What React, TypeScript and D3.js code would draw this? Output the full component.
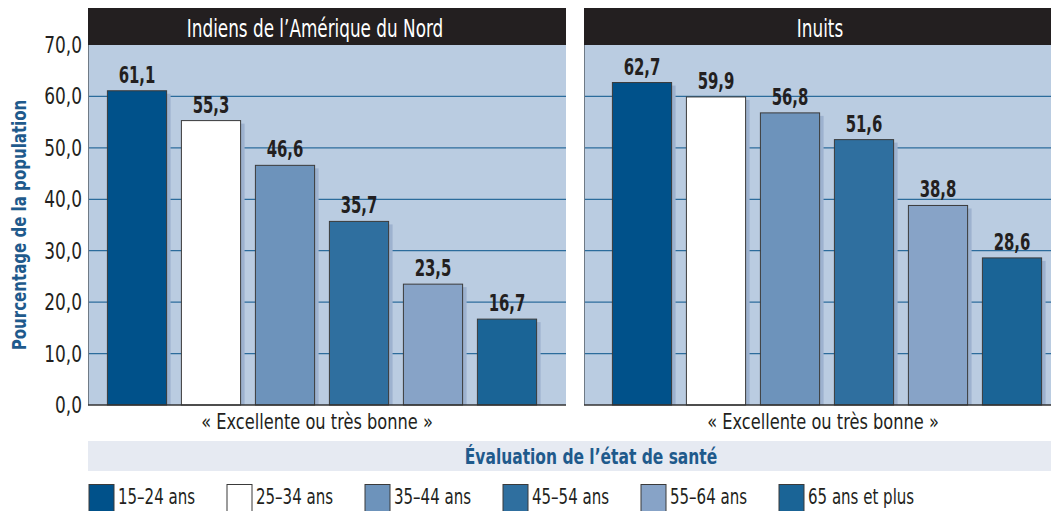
import React from 'react';
import * as d3 from 'd3';

const ageGroups = ['15–24 ans', '25–34 ans', '35–44 ans', '45–54 ans', '55–64 ans', '65 ans et plus'];
const panelTitles = ['Indiens de l’Amérique du Nord', 'Inuits'];
const indiensValues = [61.1, 55.3, 46.6, 35.7, 23.5, 16.7];
const inuitsValues = [62.7, 59.9, 56.8, 51.6, 38.8, 28.6];
const yTicks = [0, 10, 20, 30, 40, 50, 60, 70];
const categoryLabel = '« Excellente ou très bonne »';
const xTitle = 'Évaluation de l’état de santé';
const yTitle = 'Pourcentage de la population';

const colors = ['#00518a', '#ffffff', '#6d93bb', '#2f6f9f', '#87a3c7', '#1a6496'];

const W = 1051;
const H = 511;
const font = "'DejaVu Sans Condensed', 'DejaVu Sans', sans-serif";
const fmt = (v: number) => v.toFixed(1).replace('.', ',');

const y = d3.scaleLinear().domain([0, 70]).range([405, 45]);

const panels = [
  { title: panelTitles[0], values: indiensValues, x0: 88, x1: 566, band: [100, 544], titleX: 315, labelX: 317 },
  { title: panelTitles[1], values: inuitsValues, x0: 584, x1: 1062, band: [605, 1049], titleX: 820, labelX: 823 },
];

// condensed text: the original face is much narrower than anything installed
function T({ x, y, sx = 0.8, children, ...rest }: any) {
  return (
    <text transform={`translate(${x},${y}) scale(${sx},1)`} fontFamily={font} {...rest}>
      {children}
    </text>
  );
}

function Panel({ p }: { p: (typeof panels)[number] }) {
  const x = d3.scaleBand<string>().domain(ageGroups).range(p.band as [number, number]).paddingInner(0.2).paddingOuter(0.1);
  return (
    <g>
      <rect x={p.x0} y={8} width={p.x1 - p.x0} height={37} fill="#231f20" />
      <T x={p.titleX} y={37} sx={0.78} fill="#fff" fontSize={24} textAnchor="middle">{p.title}</T>
      <rect x={p.x0} y={45} width={p.x1 - p.x0} height={405 - 45} fill="#bacce1" />
      {yTicks.filter((t) => t > 0 && t < 70).map((t) => (
        <line key={t} x1={p.x0} x2={p.x1} y1={y(t)} y2={y(t)} stroke="#2c6c9c" strokeWidth={1.2} />
      ))}
      <line x1={p.x0 + 0.5} x2={p.x0 + 0.5} y1={45} y2={405} stroke="#6f7a86" strokeWidth={1} />
      {p.values.map((v, i) => {
        const bx = x(ageGroups[i])!;
        const bw = x.bandwidth();
        return (
          <g key={i}>
            <rect x={bx + 4} y={y(v) + 3} width={bw} height={y(0) - y(v) - 3} fill="#9db2cf" />
            <rect x={bx} y={y(v)} width={bw} height={y(0) - y(v)} fill={colors[i]} stroke="#3a3a3a" strokeWidth={1} />
            <T x={bx + bw / 2} y={y(v) - 8} sx={0.72} textAnchor="middle" fontSize={23} fontWeight="bold" fill="#231f20">{fmt(v)}</T>
          </g>
        );
      })}
      <line x1={p.x0} x2={p.x1} y1={405} y2={405} stroke="#333" strokeWidth={1.5} />
      <T x={p.labelX} y={429} sx={0.82} textAnchor="middle" fontSize={22} fill="#231f20">{categoryLabel}</T>
    </g>
  );
}

export default function App() {
  return (
    <svg width={W} height={H} style={{ position: 'absolute', left: 0, top: 0 }} fontFamily={font}>
      <rect width={W} height={H} fill="#fff" />
      {yTicks.map((t) => (
        <T key={t} x={82} y={y(t) + 8} sx={0.82} textAnchor="end" fontSize={23} fill="#231f20">{fmt(t)}</T>
      ))}
      <text transform={`translate(26,${y(35)}) rotate(-90) scale(0.88,1)`} textAnchor="middle" fontSize={19} fontWeight="bold" fill="#1f5a8c">{yTitle}</text>
      {panels.map((p, i) => <Panel key={i} p={p} />)}
      <rect x={88} y={441} width={W - 88} height={30} fill="#e6eaf2" />
      <T x={591} y={464} sx={0.82} textAnchor="middle" fontSize={21} fontWeight="bold" fill="#1f5a8c">{xTitle}</T>
      {ageGroups.map((g, i) => {
        const lx = 89 + i * 138;
        return (
          <g key={g}>
            <rect x={lx} y={484.5} width={25} height={27} fill={colors[i]} stroke="#3a3a3a" strokeWidth={1} />
            <T x={lx + 29} y={504} sx={0.76} fontSize={22} fill="#231f20">{g}</T>
          </g>
        );
      })}
    </svg>
  );
}
